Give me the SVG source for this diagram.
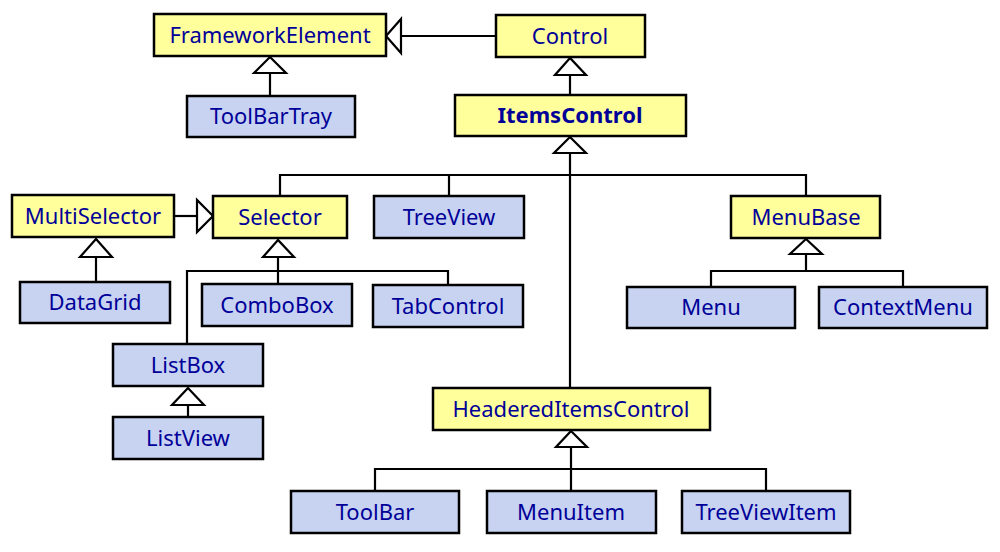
<svg xmlns="http://www.w3.org/2000/svg" width="1000" height="552" viewBox="0 0 1000 552">
<style>
.box rect{stroke:#000;stroke-width:2.5}
.y rect{fill:#FFFF9C}
.b rect{fill:#C7D3F1}
text{font-family:"Noto Sans","Open Sans","DejaVu Sans",sans-serif;font-size:22px;fill:#000099;text-anchor:middle}
.bold text{font-weight:bold}
#connectors path{fill:none;stroke:#000;stroke-width:2.2}
#connectors polygon{fill:#fff;stroke:#000;stroke-width:2.2;stroke-linejoin:miter}
</style>
<rect width="1000" height="552" fill="#fff"/>
<g id="connectors">
<path d="M496 36H401"/>
<polygon points="386,36 401,19 401,53"/>
<path d="M270 96V73"/>
<polygon points="270,57 254,73 286,73"/>
<path d="M570 95V75"/>
<polygon points="570,58 555,75 586,75"/>
<path d="M570 153V388M280 196V175H806V196M449 196V175"/>
<polygon points="570,137 554,153 586,153"/>
<path d="M174 216H197"/>
<polygon points="213,216 197,200 197,232"/>
<path d="M96 282V257"/>
<polygon points="96,239 80,257 112,257"/>
<path d="M278 257V284M187 344V271H448V285"/>
<polygon points="278,240 263,257 294,257"/>
<path d="M188 405V417"/>
<polygon points="188,388 172,405 204,405"/>
<path d="M806 254V271M711 287V271H903V287"/>
<polygon points="806,239 790,254 822,254"/>
<path d="M571 447V491M375 491V469H766V491"/>
<polygon points="571,431 556,447 587,447"/>
</g>
<g id="FrameworkElement" class="box y"><rect x="154" y="14" width="232" height="42"/><text x="270" y="43">FrameworkElement</text></g>
<g id="Control" class="box y"><rect x="496" y="15" width="149" height="42"/><text x="570" y="44">Control</text></g>
<g id="ToolBarTray" class="box b"><rect x="187" y="96" width="168" height="41"/><text x="271" y="124">ToolBarTray</text></g>
<g id="ItemsControl" class="box y bold"><rect x="455" y="95" width="231" height="41"/><text x="570" y="123">ItemsControl</text></g>
<g id="MultiSelector" class="box y"><rect x="12" y="195" width="162" height="42"/><text x="93" y="224">MultiSelector</text></g>
<g id="Selector" class="box y"><rect x="213" y="196" width="134" height="42"/><text x="280" y="225">Selector</text></g>
<g id="TreeView" class="box b"><rect x="374" y="196" width="150" height="42"/><text x="449" y="225">TreeView</text></g>
<g id="MenuBase" class="box y"><rect x="731" y="196" width="149" height="42"/><text x="806" y="225">MenuBase</text></g>
<g id="DataGrid" class="box b"><rect x="20" y="282" width="150" height="41"/><text x="95" y="310">DataGrid</text></g>
<g id="ComboBox" class="box b"><rect x="202" y="284" width="150" height="42"/><text x="277" y="313">ComboBox</text></g>
<g id="TabControl" class="box b"><rect x="373" y="285" width="150" height="42"/><text x="448" y="314">TabControl</text></g>
<g id="Menu" class="box b"><rect x="627" y="287" width="168" height="41"/><text x="711" y="315">Menu</text></g>
<g id="ContextMenu" class="box b"><rect x="819" y="287" width="168" height="41"/><text x="903" y="315">ContextMenu</text></g>
<g id="ListBox" class="box b"><rect x="113" y="344" width="150" height="42"/><text x="188" y="373">ListBox</text></g>
<g id="ListView" class="box b"><rect x="113" y="417" width="150" height="42"/><text x="188" y="446">ListView</text></g>
<g id="HeaderedItemsControl" class="box y"><rect x="433" y="388" width="277" height="42"/><text x="571" y="417">HeaderedItemsControl</text></g>
<g id="ToolBar" class="box b"><rect x="291" y="491" width="168" height="42"/><text x="375" y="520">ToolBar</text></g>
<g id="MenuItem" class="box b"><rect x="487" y="491" width="169" height="42"/><text x="571" y="520">MenuItem</text></g>
<g id="TreeViewItem" class="box b"><rect x="682" y="491" width="168" height="42"/><text x="766" y="520">TreeViewItem</text></g>
</svg>
